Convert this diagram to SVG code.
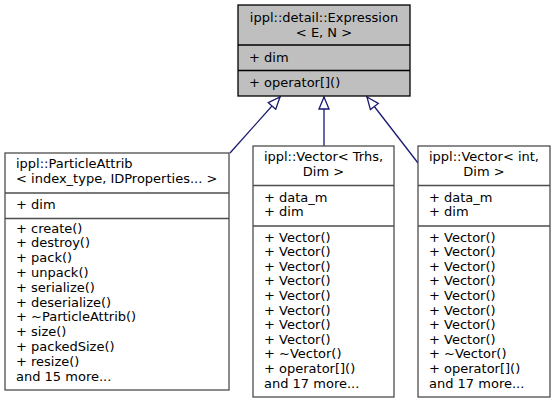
<svg xmlns="http://www.w3.org/2000/svg" width="555" height="404" viewBox="0 0 555 404">
<defs>
<style>
text{font-family:"DejaVu Sans","Liberation Sans",sans-serif;font-size:13px;fill:#000}
.c{text-anchor:middle}
.cur rect,.cur line{stroke:#000;stroke-width:1.3}
.cur rect{fill:#bfbfbf}
.cls rect,.cls line{stroke:#4d4d4d;stroke-width:1.3}
.cls rect{fill:#fff}
.edge{stroke:#191970;stroke-width:1.3;fill:none}
</style>
<marker id="tri" viewBox="0 0 14 12" refX="13" refY="6" markerWidth="14" markerHeight="12" markerUnits="userSpaceOnUse" orient="auto">
<path d="M1,1 L13,6 L1,11 Z" fill="#fff" stroke="#191970" stroke-width="1.3"/>
</marker>
</defs>
<rect width="555" height="404" fill="#fff"/>
<g id="connectors">
<line class="edge" x1="230" y1="153" x2="280" y2="97" marker-end="url(#tri)"/>
<line class="edge" x1="324" y1="146" x2="324" y2="97" marker-end="url(#tri)"/>
<line class="edge" x1="418" y1="163" x2="367" y2="97" marker-end="url(#tri)"/>
</g>
<g id="expression" class="cur">
<rect x="238" y="5" width="172" height="91"/>
<line x1="238" y1="45" x2="410" y2="45"/>
<line x1="238" y1="70.5" x2="410" y2="70.5"/>
<text class="c" x="324" y="22">ippl::detail::Expression</text>
<text class="c" x="324" y="37">&lt; E, N &gt;</text>
<text x="249" y="62">+ dim</text>
<text x="249" y="87">+ operator[]()</text>
</g>
<g id="particleattrib" class="cls">
<rect x="5" y="153" width="224" height="237"/>
<line x1="5" y1="193" x2="229" y2="193"/>
<line x1="5" y1="218.5" x2="229" y2="218.5"/>
<text x="16" y="168">ippl::ParticleAttrib</text>
<text x="16" y="183">&lt; index_type, IDProperties... &gt;</text>
<text x="16" y="208.5">+ dim</text>
<text x="16" y="232.5">+ create()</text>
<text x="16" y="247.3">+ destroy()</text>
<text x="16" y="262.1">+ pack()</text>
<text x="16" y="276.9">+ unpack()</text>
<text x="16" y="291.7">+ serialize()</text>
<text x="16" y="306.5">+ deserialize()</text>
<text x="16" y="321.3">+ ~ParticleAttrib()</text>
<text x="16" y="336.1">+ size()</text>
<text x="16" y="350.9">+ packedSize()</text>
<text x="16" y="365.7">+ resize()</text>
<text x="16" y="380.5">and 15 more...</text>
</g>
<g id="vector_trhs" class="cls">
<rect x="253" y="146" width="141" height="251"/>
<line x1="253" y1="185.5" x2="394" y2="185.5"/>
<line x1="253" y1="226" x2="394" y2="226"/>
<text class="c" x="323.5" y="161">ippl::Vector&lt; Trhs,</text>
<text class="c" x="323.5" y="176">Dim &gt;</text>
<text x="264" y="201.5">+ data_m</text>
<text x="264" y="216">+ dim</text>
<text x="264" y="241.5">+ Vector()</text>
<text x="264" y="256.1">+ Vector()</text>
<text x="264" y="270.7">+ Vector()</text>
<text x="264" y="285.3">+ Vector()</text>
<text x="264" y="299.9">+ Vector()</text>
<text x="264" y="314.5">+ Vector()</text>
<text x="264" y="329.1">+ Vector()</text>
<text x="264" y="343.7">+ Vector()</text>
<text x="264" y="358.3">+ ~Vector()</text>
<text x="264" y="372.9">+ operator[]()</text>
<text x="264" y="387.5">and 17 more...</text>
</g>
<g id="vector_int" class="cls">
<rect x="418" y="146" width="132" height="251"/>
<line x1="418" y1="185.5" x2="550" y2="185.5"/>
<line x1="418" y1="226" x2="550" y2="226"/>
<text class="c" x="484" y="161">ippl::Vector&lt; int,</text>
<text class="c" x="484" y="176">Dim &gt;</text>
<text x="429" y="201.5">+ data_m</text>
<text x="429" y="216">+ dim</text>
<text x="429" y="241.5">+ Vector()</text>
<text x="429" y="256.1">+ Vector()</text>
<text x="429" y="270.7">+ Vector()</text>
<text x="429" y="285.3">+ Vector()</text>
<text x="429" y="299.9">+ Vector()</text>
<text x="429" y="314.5">+ Vector()</text>
<text x="429" y="329.1">+ Vector()</text>
<text x="429" y="343.7">+ Vector()</text>
<text x="429" y="358.3">+ ~Vector()</text>
<text x="429" y="372.9">+ operator[]()</text>
<text x="429" y="387.5">and 17 more...</text>
</g>
</svg>
